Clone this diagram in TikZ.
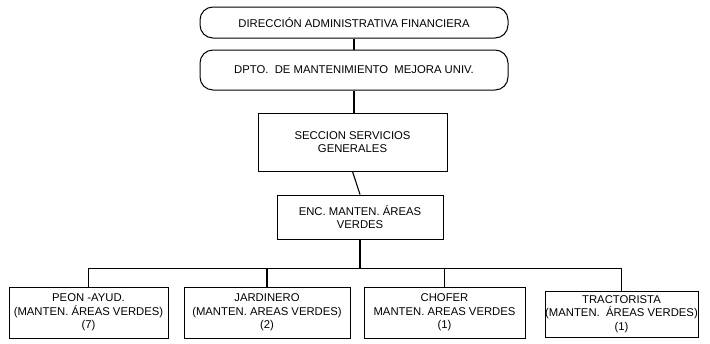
\documentclass[tikz,border=0pt]{standalone}
\usepackage{fontspec}
\setmainfont{Liberation Sans}
\begin{document}
\begin{tikzpicture}[x=1pt,y=-1pt,
  lbl/.style={font=\fontsize{11.3}{13.5}\selectfont, align=center, inner sep=0pt, line width=1pt, draw=black},
  roundbox/.style={lbl, rounded corners=13pt},
  sqbox/.style={lbl},
  conn/.style={line width=1.1pt}]
\useasboundingbox (0,0) rectangle (710,343);
\node[roundbox, minimum width=308pt, minimum height=31pt] (b1) at (354,22.5) {DIRECCIÓN ADMINISTRATIVA FINANCIERA};
\node[roundbox, minimum width=308pt, minimum height=40pt] (b2) at (354,70) {DPTO.\ \ DE MANTENIMIENTO\ \ MEJORA UNIV.};
\node[sqbox, minimum width=189pt, minimum height=58pt] (b3) at (352.5,142) {SECCION SERVICIOS\\GENERALES};
\node[sqbox, minimum width=166pt, minimum height=44pt] (b4) at (360,217) {ENC. MANTEN. ÁREAS\\VERDES};
\node[sqbox, minimum width=159pt, minimum height=51pt] (p1) at (88.5,312.5) {PEON -AYUD.\\(MANTEN. ÁREAS VERDES)\\(7)};
\node[sqbox, minimum width=166pt, minimum height=51pt] (p2) at (267,312.5) {JARDINERO\\(MANTEN. AREAS VERDES)\\(2)};
\node[sqbox, minimum width=161pt, minimum height=51pt] (p3) at (444.5,312.5) {CHOFER\\MANTEN. AREAS VERDES\\(1)};
\node[sqbox, minimum width=153pt, minimum height=46pt] (p4) at (621.5,314) {TRACTORISTA\\(MANTEN.\ \ ÁREAS VERDES)\\(1)};
\draw[conn] (b1.south) -- (b2.north);
\draw[conn] (b2.south) -- (b2.south |- b3.north);
\draw[conn] (b3.south) -- (b4.north);
\draw[conn] (b4.south) -- ++(0,29) coordinate (j);
\draw[conn] (p1.north) |- (j) -| (p4.north);
\draw[conn] (p2.north) -- (p2.north |- j);
\draw[conn] (p3.north) -- (p3.north |- j);
\end{tikzpicture}
\end{document}
